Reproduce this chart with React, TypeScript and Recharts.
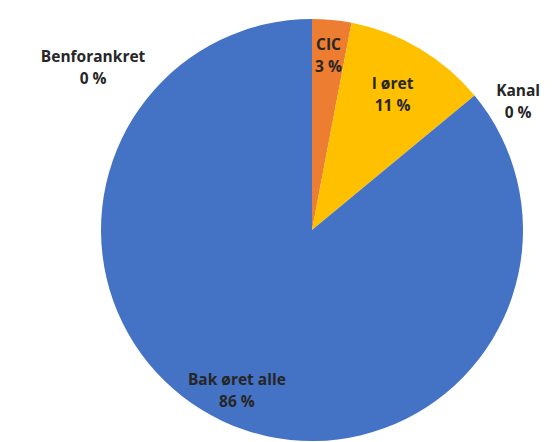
import { Cell, Pie, PieChart } from 'recharts'

const categories = ['CIC', 'I øret', 'Kanal', 'Bak øret alle', 'Benforankret']
const shares = [3, 11, 0, 86, 0]
const colors = ['#ED7D31', '#FFC000', '#A5A5A5', '#4472C4', '#5B9BD5']

const data = categories.map((name, i) => ({ name, value: shares[i] }))

// label spot per slice: radius as share of the pie radius, optional fixed angle (deg)
const labelSpots: { r: number; angle?: number }[] = [
  { r: 0.833 },
  { r: 0.75 },
  { r: 1.152, angle: 32 },
  { r: 0.836 },
  { r: 1.294, angle: 143.3 },
]

const RADIAN = Math.PI / 180

function renderLabel(props: any) {
  const { cx, cy, midAngle, outerRadius, index } = props
  const spot = labelSpots[index]
  const angle = spot.angle ?? midAngle
  const r = outerRadius * spot.r
  const x = cx + r * Math.cos(-angle * RADIAN)
  const y = cy + r * Math.sin(-angle * RADIAN)
  return (
    <text
      x={x}
      y={y - 11}
      textAnchor="middle"
      dominantBaseline="central"
      fill="#262626"
      fontSize={15.5}
      fontWeight="bold"
      fontFamily="'Open Sans', sans-serif"
    >
      <tspan x={x} dy={0}>{categories[index]}</tspan>
      <tspan x={x} dy={22}>{`${shares[index]} %`}</tspan>
    </text>
  )
}

export default function App() {
  return (
    <div style={{ position: 'fixed', left: 0, top: 0, width: 557, height: 442, background: '#fff' }}>
      <PieChart width={557} height={442}>
        <Pie
          data={data}
          dataKey="value"
          nameKey="name"
          cx={307}
          cy={225}
          outerRadius={211}
          startAngle={90}
          endAngle={-270}
          stroke="none"
          label={renderLabel}
          labelLine={false}
          isAnimationActive={false}
        >
          {data.map((d, i) => (
            <Cell key={d.name} fill={colors[i]} />
          ))}
        </Pie>
      </PieChart>
    </div>
  )
}
